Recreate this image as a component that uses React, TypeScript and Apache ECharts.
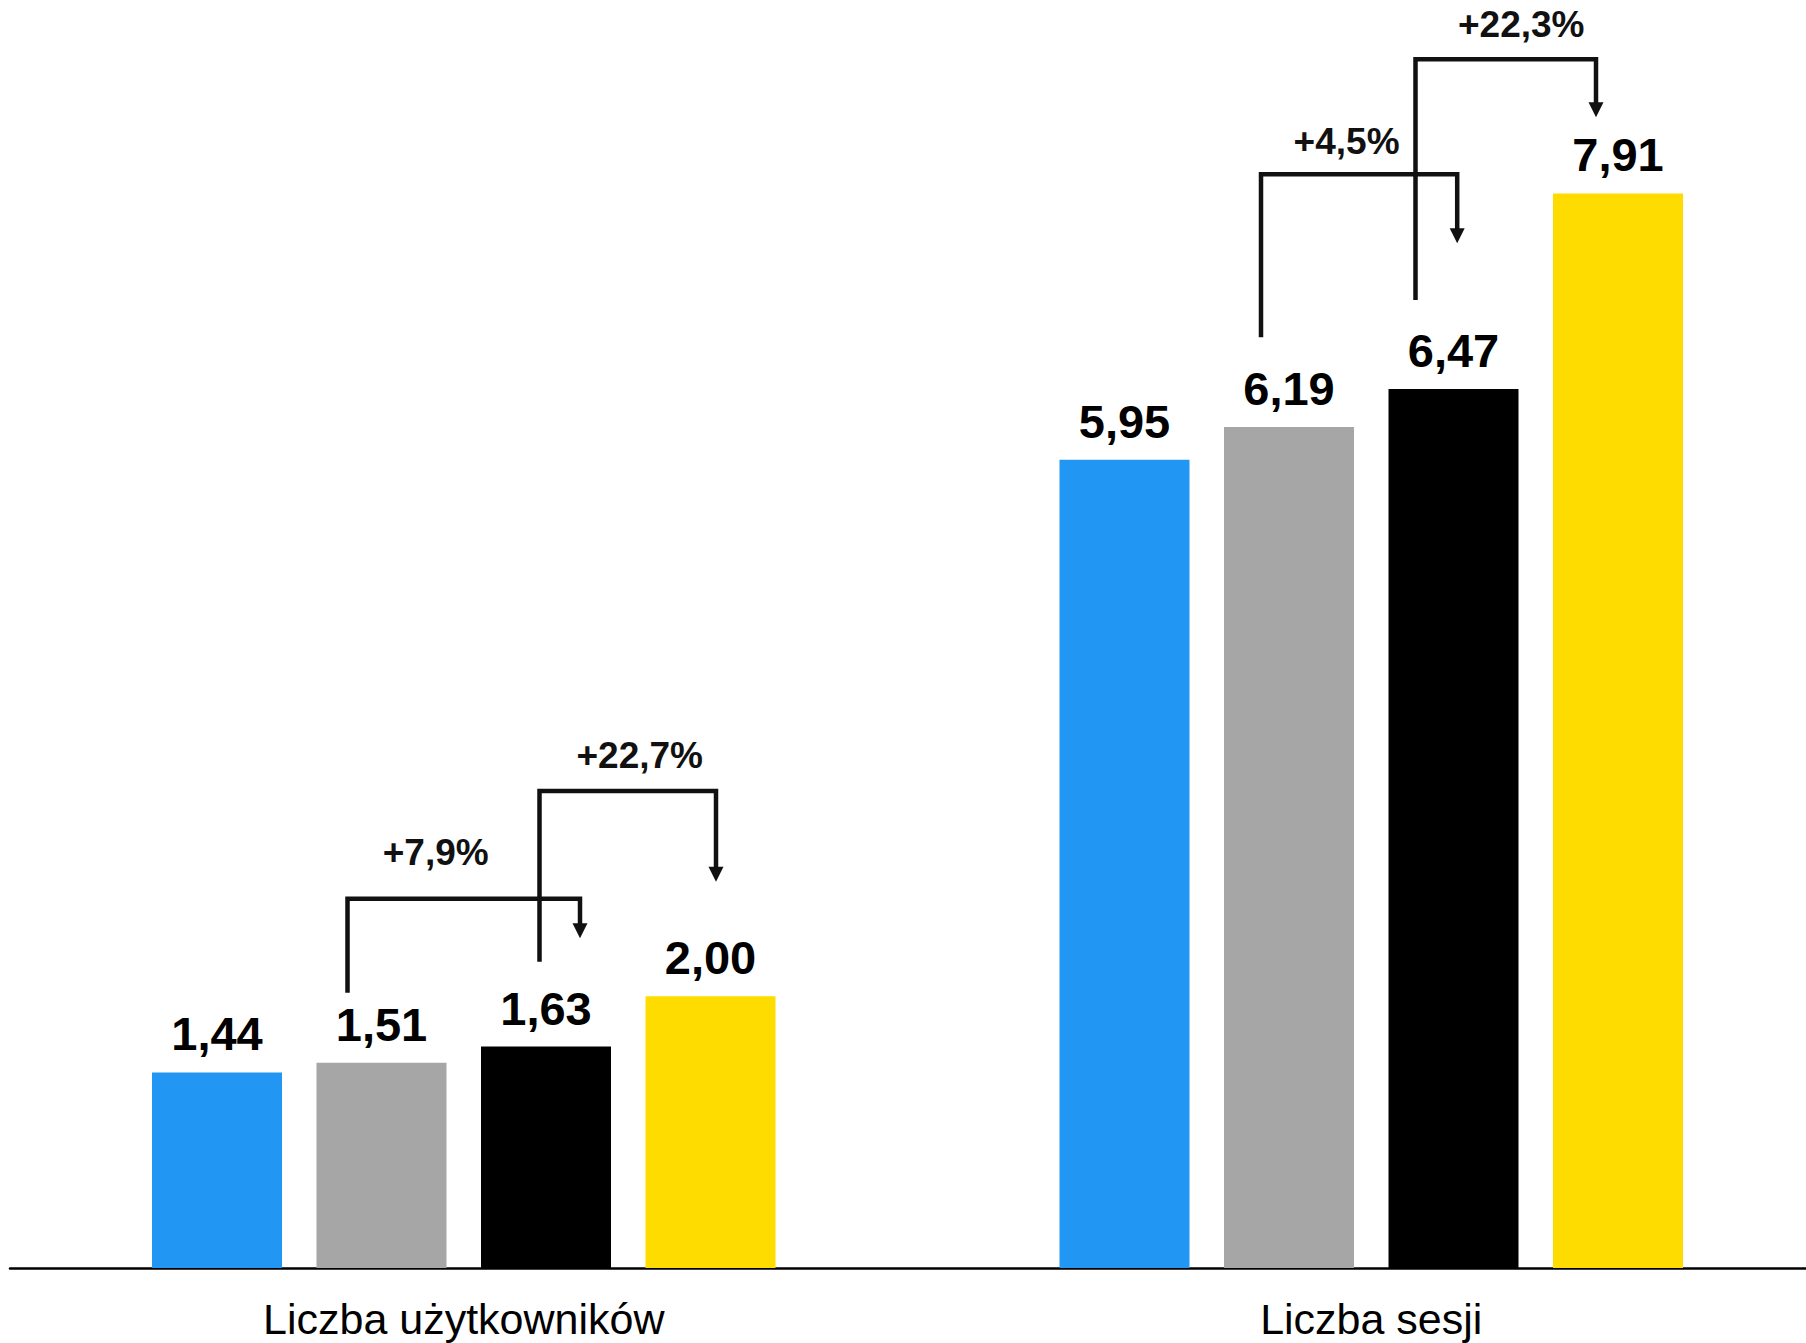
import React, { useEffect, useRef } from "react";
import * as echarts from "echarts";

const categories = ["Liczba użytkowników", "Liczba sesji"];
const seriesNames = ["Okres 1", "Okres 2", "Okres 3", "Okres 4"];
const seriesColors = ["#2196F3", "#A6A6A6", "#000000", "#FFDC00"];
const values1 = [1.44, 5.95];
const values2 = [1.51, 6.19];
const values3 = [1.63, 6.47];
const values4 = [2.0, 7.91];

// bracket annotations: category, from series, to series, level, start bottom, arrow tip, label
const bracketCategory = [0, 0, 1, 1];
const bracketFrom = [1, 2, 1, 2];
const bracketTo = [2, 3, 2, 3];
const bracketLevel = [2.718, 3.511, 8.051, 8.897];
const bracketStart = [2.026, 2.255, 6.851, 7.125];
const bracketTip = [2.427, 2.844, 7.543, 8.47];
const bracketLabels = ["+7,9%", "+22,7%", "+4,5%", "+22,3%"];
// hand placement nudges (px)
const bracketFromNudge = [-34, -6.5, -28, -38];
const bracketToNudge = [34, 5.5, 3.7, -22];
const bracketLabelNudge = [-28, 12, -12.5, 15.5];
const bracketLabelLift = [28, 17, 14, 16];

const BAR_WIDTH = 130;
const BAR_GAP = 34.5;

const fmt = (v: number) => v.toFixed(2).replace(".", ",");

export default function App() {
  const ref = useRef<HTMLDivElement>(null);
  useEffect(() => {
    if (!ref.current) return;
    const chart = echarts.init(ref.current, null, { renderer: "svg" });
    const valueSets = [values1, values2, values3, values4];
    const barSeries = valueSets.map((vals, i) => ({
      type: "bar",
      name: seriesNames[i],
      data: vals,
      barWidth: BAR_WIDTH,
      barGap: (BAR_GAP / BAR_WIDTH) * 100 + "%",
      itemStyle: { color: seriesColors[i] },
      label: {
        show: true,
        position: "top",
        distance: 15,
        formatter: (p: any) => fmt(p.value),
        fontFamily: "Liberation Sans, Arial, sans-serif",
        fontWeight: "bold",
        fontSize: 47,
        color: "#000",
      },
    }));
    const bracketData = bracketLabels.map((_, i) => [
      bracketCategory[i],
      bracketFrom[i],
      bracketTo[i],
      bracketLevel[i],
      bracketStart[i],
      bracketTip[i],
      i,
    ]);
    const bracketSeries = {
      type: "custom",
      name: "brackets",
      data: bracketData,
      encode: { x: 0, y: 3 },
      z: 5,
      renderItem: (params: any, api: any) => {
        const cat = api.value(0);
        const from = api.value(1);
        const to = api.value(2);
        const idx = api.value(6);
        const c = api.coord([cat, api.value(3)]);
        const yStart = api.coord([cat, api.value(4)])[1];
        const yTip = api.coord([cat, api.value(5)])[1];
        const step = BAR_WIDTH + BAR_GAP;
        const x1 = c[0] + (from - 1.5) * step + bracketFromNudge[idx];
        const x2 = c[0] + (to - 1.5) * step + bracketToNudge[idx];
        const yL = c[1];
        const ah = 15;
        const aw = 7.5;
        const stroke = { stroke: "#111", lineWidth: 4.5, fill: null };
        return {
          type: "group",
          children: [
            {
              type: "polyline",
              shape: {
                points: [
                  [x1, yStart],
                  [x1, yL],
                  [x2, yL],
                  [x2, yTip - ah + 2],
                ],
              },
              style: stroke,
            },
            {
              type: "polygon",
              shape: {
                points: [
                  [x2 - aw, yTip - ah],
                  [x2 + aw, yTip - ah],
                  [x2, yTip],
                ],
              },
              style: { fill: "#111" },
            },
            {
              type: "text",
              style: {
                text: bracketLabels[idx],
                x: (x1 + x2) / 2 + bracketLabelNudge[idx],
                y: yL - bracketLabelLift[idx],
                align: "center",
                verticalAlign: "bottom",
                fontFamily: "Liberation Sans, Arial, sans-serif",
                fontWeight: "bold",
                fontSize: 37,
                fill: "#111",
              },
            },
          ],
        };
      },
    };
    chart.setOption({
      animation: false,
      backgroundColor: "#fff",
      grid: { left: 10, right: -19, top: 4.6, bottom: 75, containLabel: false },
      xAxis: {
        type: "category",
        data: categories,
        axisLine: { show: true, lineStyle: { color: "#000", width: 2.5 } },
        axisTick: { show: false },
        axisLabel: {
          margin: 29,
          fontFamily: "Liberation Sans, Arial, sans-serif",
          fontSize: 43,
          color: "#000",
        },
      },
      yAxis: {
        type: "value",
        min: 0,
        max: 9.3,
        show: false,
        splitLine: { show: false },
      },
      series: [...barSeries, bracketSeries],
    });
    return () => chart.dispose();
  }, []);
  return (
    <div
      style={{
        position: "absolute",
        left: 0,
        top: 0,
        width: 1806,
        height: 1343,
        overflow: "hidden",
        background: "#fff",
      }}
    >
      <div ref={ref} style={{ width: 1825, height: 1343 }} />
    </div>
  );
}
